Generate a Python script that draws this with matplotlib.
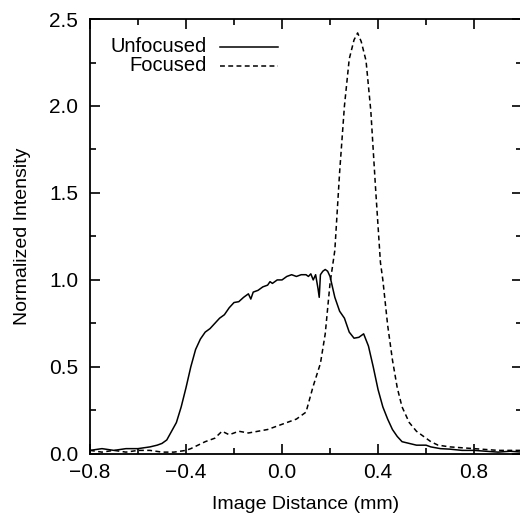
import matplotlib
matplotlib.use('Agg')
import matplotlib.pyplot as plt
from matplotlib.ticker import MultipleLocator

plt.rcParams['font.family'] = ['Liberation Sans', 'DejaVu Sans']

# intensity profiles
unfocused_x = [-0.80, -0.75, -0.70, -0.65, -0.60, -0.55, -0.52, -0.50, -0.48, -0.46,
               -0.44, -0.42, -0.40, -0.38, -0.36, -0.34, -0.32, -0.30, -0.28, -0.26,
               -0.24, -0.22, -0.20, -0.18, -0.16, -0.14, -0.13, -0.12, -0.10, -0.08,
               -0.06, -0.05, -0.04, -0.02, 0.00, 0.02, 0.04, 0.06, 0.08, 0.10,
               0.11, 0.12, 0.13, 0.14, 0.15, 0.155, 0.16, 0.17, 0.18, 0.19,
               0.20, 0.22, 0.24, 0.26, 0.28, 0.30, 0.32, 0.34, 0.36, 0.38,
               0.40, 0.42, 0.44, 0.46, 0.48, 0.50, 0.53, 0.56, 0.60, 0.62,
               0.66, 0.70, 0.75, 0.80, 0.85, 0.90, 0.95, 1.00]
unfocused_y = [0.02, 0.03, 0.02, 0.03, 0.03, 0.04, 0.05, 0.06, 0.08, 0.13,
               0.18, 0.27, 0.38, 0.50, 0.60, 0.66, 0.70, 0.72, 0.75, 0.78,
               0.80, 0.84, 0.87, 0.875, 0.90, 0.92, 0.89, 0.93, 0.94, 0.96,
               0.97, 0.99, 0.98, 1.00, 1.00, 1.02, 1.03, 1.02, 1.03, 1.03,
               1.02, 1.035, 1.00, 1.03, 0.95, 0.90, 1.03, 1.05, 1.06, 1.05,
               1.02, 0.90, 0.82, 0.78, 0.70, 0.665, 0.67, 0.69, 0.62, 0.50,
               0.37, 0.27, 0.20, 0.14, 0.10, 0.07, 0.06, 0.05, 0.05, 0.04,
               0.03, 0.027, 0.02, 0.02, 0.015, 0.01, 0.015, 0.01]

focused_x = [-0.80, -0.75, -0.70, -0.65, -0.60, -0.55, -0.50, -0.45, -0.40, -0.38,
             -0.35, -0.32, -0.28, -0.25, -0.22, -0.18, -0.14, -0.10, -0.06, -0.02,
             0.02, 0.06, 0.08, 0.10, 0.13, 0.16, 0.18, 0.20, 0.22, 0.24,
             0.26, 0.28, 0.30, 0.315, 0.33, 0.35, 0.37, 0.39, 0.41, 0.42,
             0.44, 0.46, 0.48, 0.50, 0.53, 0.56, 0.60, 0.62, 0.65, 0.70,
             0.75, 0.80, 0.85, 0.90, 0.95, 1.00]
focused_y = [0.02, 0.01, 0.02, 0.01, 0.02, 0.02, 0.01, 0.01, 0.02, 0.03,
             0.05, 0.07, 0.09, 0.13, 0.11, 0.13, 0.12, 0.13, 0.14, 0.16,
             0.18, 0.20, 0.22, 0.24, 0.39, 0.52, 0.69, 0.98, 1.17, 1.62,
             2.00, 2.27, 2.38, 2.42, 2.37, 2.26, 1.97, 1.52, 1.10, 1.00,
             0.74, 0.54, 0.38, 0.27, 0.18, 0.13, 0.09, 0.07, 0.05, 0.04,
             0.035, 0.03, 0.025, 0.02, 0.02, 0.02]

series_labels = ['Unfocused', 'Focused']
series_dashes = [None, (3.2, 2.2)]

fig = plt.figure(figsize=(5.2, 5.14), dpi=100)
ax = fig.add_axes([0.173, 0.117, 0.831, 0.846])

lines = []
for xs, ys, d in zip([unfocused_x, focused_x], [unfocused_y, focused_y], series_dashes):
    ln, = ax.plot(xs, ys, color='black', lw=1.1)
    if d:
        ln.set_dashes(d)
    lines.append(ln)

ax.set_xlim(-0.8, 1.0)
ax.set_ylim(0, 2.5)
ax.xaxis.set_major_locator(MultipleLocator(0.4))
ax.xaxis.set_minor_locator(MultipleLocator(0.2))
ax.yaxis.set_major_locator(MultipleLocator(0.5))
ax.yaxis.set_minor_locator(MultipleLocator(0.25))
ax.set_xticklabels([f'{v:.1f}'.replace('-', '\u2212') for v in ax.get_xticks()])
ax.set_yticklabels([f'{v:.1f}' for v in ax.get_yticks()])
ax.tick_params(which='both', direction='in', top=True, right=True, width=1.2,
               labelsize=15)
ax.tick_params(axis='x', pad=6.5)
ax.tick_params(axis='y', pad=8.5)
ax.tick_params(which='major', length=7)
ax.tick_params(which='minor', length=4)
for s in ax.spines.values():
    s.set_linewidth(1.3)

ax.set_xlabel('Image Distance (mm)', fontsize=14, labelpad=10)
ax.set_ylabel('Normalized Intensity', fontsize=14, labelpad=13)

# gnuplot-style key: right-aligned text, sample line to the right
for i, (lab, ln) in enumerate(zip(series_labels, lines)):
    yk = 0.936 - i * 0.044
    ax.text(0.271, yk, lab, transform=ax.transAxes, ha='right', va='center',
            fontsize=14.5)
    key, = ax.plot([0.301, 0.435], [yk, yk], transform=ax.transAxes,
                   color='black', lw=1.1)
    if series_dashes[i]:
        key.set_dashes(series_dashes[i])

plt.savefig('out.png', dpi=100)
